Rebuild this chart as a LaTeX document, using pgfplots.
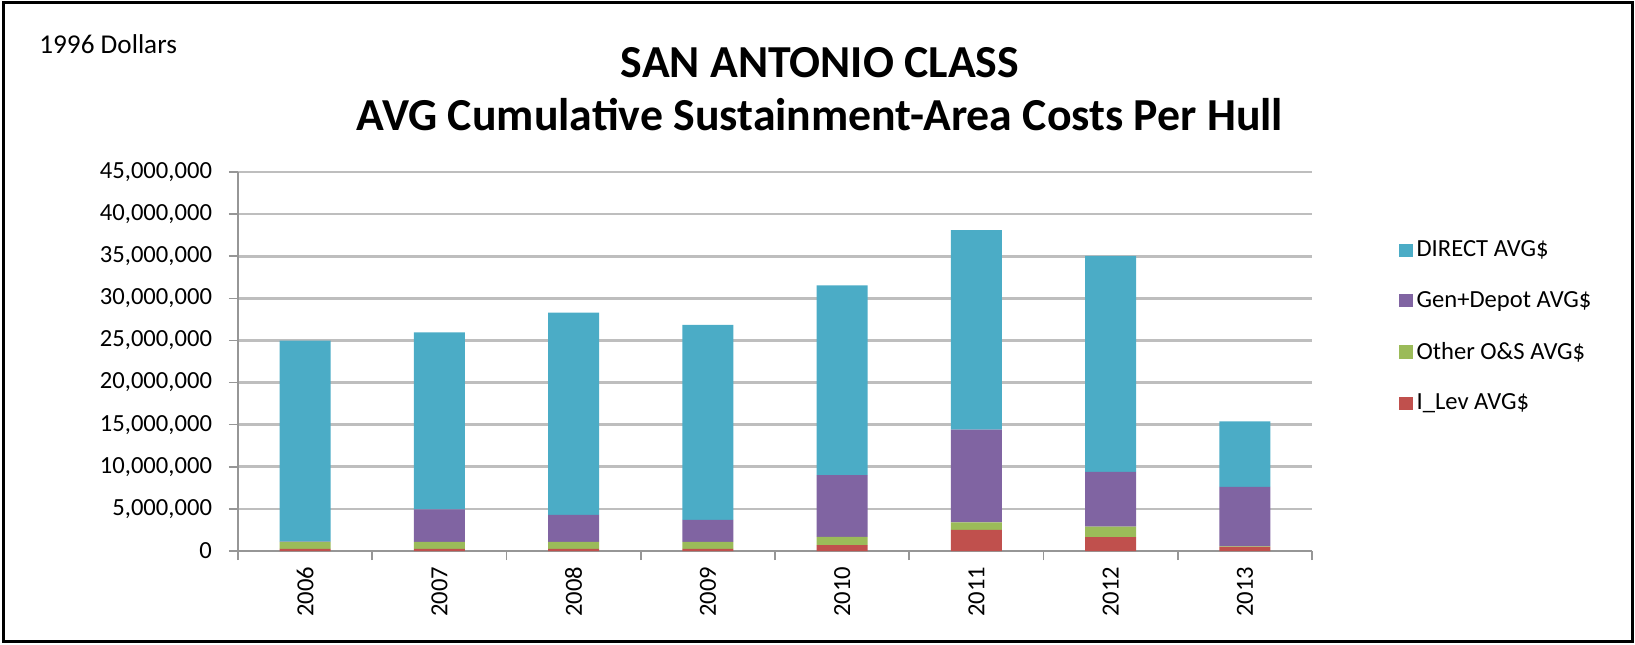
\documentclass[border=0pt]{standalone}
\usepackage{fontspec}
\setmainfont{Carlito}
\usepackage{pgfplots}
\pgfplotsset{compat=1.18}
\definecolor{cDirect}{HTML}{4BACC6}
\definecolor{cGen}{HTML}{8064A2}
\definecolor{cOther}{HTML}{9BBB59}
\definecolor{cLev}{HTML}{C0504D}
\definecolor{cGrid}{RGB}{190,190,190}
\definecolor{cAxis}{RGB}{150,150,150}
\begin{document}
\begin{tikzpicture}
\useasboundingbox (0,0) rectangle (817.5pt,322pt);
\draw[line width=1.5pt] (1.5pt,1.5pt) rectangle (816pt,320.5pt);
\node[anchor=west, inner sep=0pt, font=\fontsize{13.6}{16}\selectfont] at (19.5pt,300pt) {1996 Dollars};
\node[font=\bfseries\fontsize{22.9}{26}\selectfont] at (410pt,290.5pt) {SAN ANTONIO CLASS};
\node[font=\bfseries\fontsize{22.9}{26}\selectfont] at (410pt,264.5pt) {AVG Cumulative Sustainment-Area Costs Per Hull};
\begin{axis}[
  at={(119pt,46.5pt)}, anchor=south west,
  scale only axis, width=537pt, height=189.5pt,
  ybar stacked, bar width=25.5pt,
  xmin=-0.5, xmax=7.5,
  ymin=0, ymax=45000000,
  ytick distance=5000000,
  scaled y ticks=false,
  /pgf/number format/assume math mode=true,
  /pgf/number format/fixed, /pgf/number format/precision=0,
  /pgf/number format/1000 sep={,},
  xtick={-0.5,0.5,...,7.5},
  x tick label as interval,
  xticklabels={2006,2007,2008,2009,2010,2011,2012,2013},
  xticklabel style={rotate=90, anchor=east, font=\fontsize{12.3}{14}\selectfont},
  yticklabel style={font=\fontsize{12.3}{14}\selectfont, xshift=-5pt},
  tick align=outside,
  major tick length=4.5pt,
  tick style={cAxis, line width=0.8pt},
  axis x line*=bottom, axis y line*=left,
  axis line style={cAxis, line width=0.8pt, -},
  ymajorgrids, grid style={cGrid, line width=1.3pt},
  legend style={at={(1.081,0.83)}, anchor=north west, draw=none, fill=none,
    font=\fontsize{12.3}{14}\selectfont, row sep=11.8pt, inner sep=0pt},
  legend cell align=left,
  reverse legend,
  legend image code/.code={\fill[#1] (0pt,-3.3pt) rectangle (6.6pt,3.3pt);},
]
\addplot[fill=cLev, draw=none] coordinates {(0,250000) (1,250000) (2,250000) (3,250000) (4,700000) (5,2500000) (6,1650000) (7,500000)};
\addplot[fill=cOther, draw=none] coordinates {(0,820000) (1,820000) (2,820000) (3,820000) (4,970000) (5,910000) (6,1250000) (7,50000)};
\addplot[fill=cGen, draw=none] coordinates {(0,50000) (1,3880000) (2,3230000) (3,2630000) (4,7330000) (5,10990000) (6,6500000) (7,7050000)};
\addplot[fill=cDirect, draw=none] coordinates {(0,23850000) (1,21000000) (2,24000000) (3,23150000) (4,22550000) (5,23700000) (6,25650000) (7,7800000)};
\legend{I\_Lev AVG\$, Other O\&S AVG\$, Gen+Depot AVG\$, DIRECT AVG\$}
\end{axis}
\end{tikzpicture}
\end{document}
